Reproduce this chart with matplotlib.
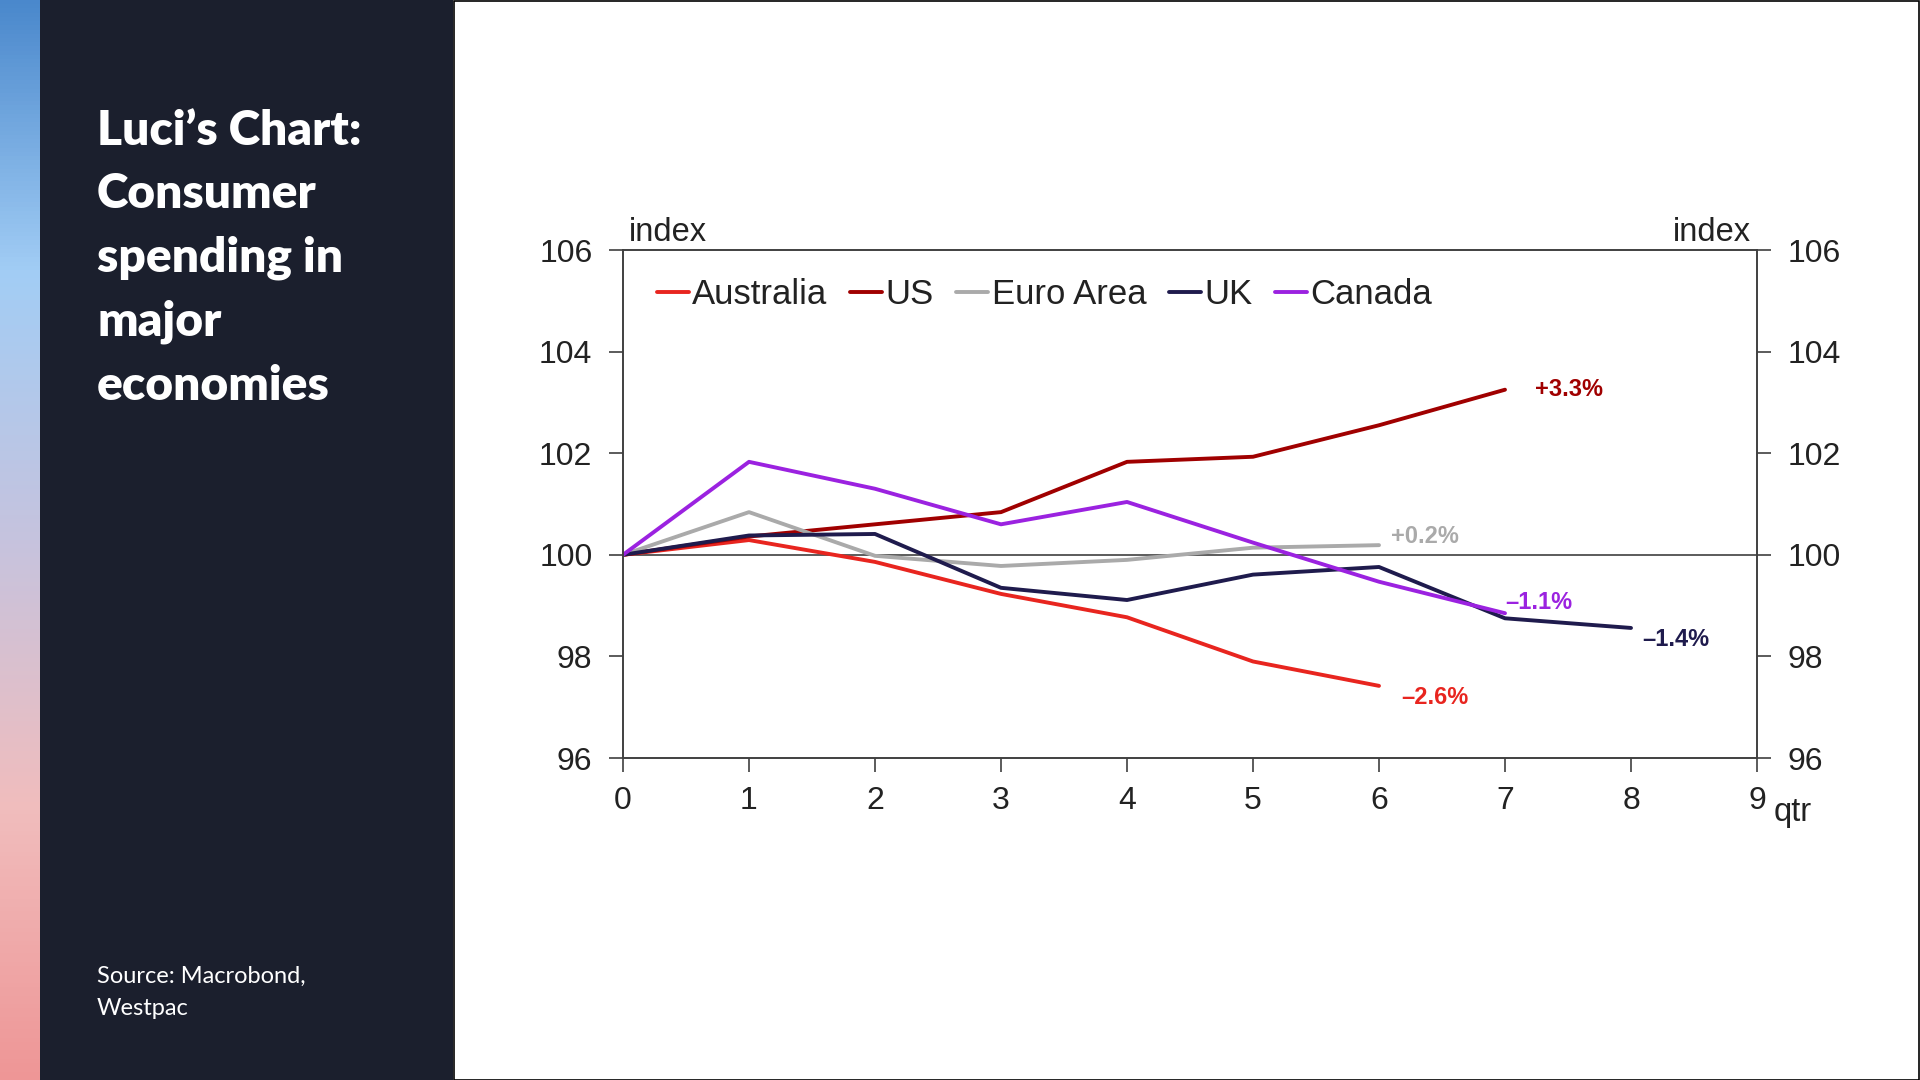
import numpy as np
import matplotlib.pyplot as plt
from matplotlib.colors import LinearSegmentedColormap
from matplotlib.patches import Rectangle

# data (index, start = 100)
qtr = [0, 1, 2, 3, 4, 5, 6, 7, 8]
australia = [100, 100.29, 99.86, 99.23, 98.77, 97.90, 97.42]
us = [100, 100.36, 100.60, 100.84, 101.83, 101.93, 102.55, 103.25]
euro_area = [100, 100.84, 99.98, 99.78, 99.90, 100.14, 100.19]
uk = [100, 100.38, 100.41, 99.35, 99.11, 99.61, 99.76, 98.75, 98.56]
canada = [100, 101.83, 101.30, 100.60, 101.04, 100.24, 99.47, 98.85]

names = ["Australia", "US", "Euro Area", "UK", "Canada"]
colours = ["#e8251f", "#a00000", "#aaaaaa", "#1f1b4d", "#9b22e0"]
end_labels = ["\u20132.6%", "+3.3%", "+0.2%", "\u20131.4%", "\u20131.1%"]
# label offsets from last point, in pixels
label_off = [(22, -12), (30, 0), (12, 9), (11, -12), (0, 11)]

y_ticks = [96, 98, 100, 102, 104, 106]

plt.rcParams['font.family'] = ['Liberation Sans', 'DejaVu Sans']

fig = plt.figure(figsize=(19.2, 10.8), dpi=100)
W, H = 1920, 1080

# left gradient strip
grad_cols = ["#4a88cc", "#a2cdf5", "#c6c3de", "#f1bdbd", "#ee9696"]
cmap = LinearSegmentedColormap.from_list("strip", grad_cols)
sax = fig.add_axes([0, 0, 40 / W, 1])
sax.imshow(np.linspace(0, 1, 256).reshape(-1, 1), aspect='auto', cmap=cmap,
           extent=[0, 1, 1, 0])
sax.axis('off')

# dark side panel
fig.patches.append(Rectangle((40 / W, 0), 413 / W, 1, transform=fig.transFigure,
                             facecolor="#1b1f2d", edgecolor='none', zorder=0))
# thin border round white area
fig.patches.append(Rectangle((453.5 / W, 0.5 / H), 1465.5 / W, 1078.5 / H,
                             transform=fig.transFigure, facecolor='none',
                             edgecolor='black', linewidth=1.2, zorder=5))

title = "Luci\u2019s Chart:\nConsumer\nspending in\nmajor\neconomies"
fig.text(97 / W, 1 - 109 / H, title, color='white', fontsize=34.5,
         fontfamily='Lato', fontweight='heavy', va='top', ha='left',
         linespacing=1.54)
fig.text(97 / W, 1 - 966 / H, "Source: Macrobond,\nWestpac", color='white',
         fontsize=17, fontfamily='Lato', va='top', ha='left', linespacing=1.65)

# main chart
ax = fig.add_axes([623 / W, 1 - 758 / H, 1134 / W, 508 / H])
series = [australia, us, euro_area, uk, canada]
for vals, name, col, lab, off in zip(series, names, colours, end_labels, label_off):
    x = qtr[:len(vals)]
    ax.plot(x, vals, color=col, lw=2.8, label=name, solid_capstyle='round')
    ax.annotate(lab, (x[-1], vals[-1]), xytext=off, textcoords='offset pixels',
                color=col, fontsize=17, fontweight='bold', va='center', ha='left')

ax.axhline(100, color='#404040', lw=1.2, zorder=1)
ax.set_xlim(0, 9)
ax.set_ylim(96, 106)
ax.set_xticks(qtr + [9])
ax.set_yticks(y_ticks)
for s in ax.spines.values():
    s.set_color('#404040')
    s.set_linewidth(1.2)
ax.tick_params(axis='both', direction='out', length=10, width=1.2, colors='#404040',
               labelcolor='#222222', labelsize=23)
ax.tick_params(axis='y', pad=12)
ax.tick_params(axis='x', pad=10.5)

ax2 = ax.twinx()
ax2.set_ylim(96, 106)
ax2.set_yticks(y_ticks)
for s in ax2.spines.values():
    s.set_color('#404040')
    s.set_linewidth(1.2)
ax2.tick_params(axis='y', direction='out', length=10, width=1.2, colors='#404040',
                labelcolor='#222222', labelsize=23, pad=12)

ax.text(0.005, 1.004, "index", transform=ax.transAxes, fontsize=23.5, color='#222222',
        ha='left', va='bottom')
ax.text(0.995, 1.004, "index", transform=ax.transAxes, fontsize=23.5, color='#222222',
        ha='right', va='bottom')
ax.text(1.015, -0.108, "qtr", transform=ax.transAxes, fontsize=23.5, color='#222222',
        ha='left', va='center')

leg = ax.legend(loc='center left', ncol=5, frameon=False, fontsize=25,
                handlelength=0.92, handletextpad=0.1, columnspacing=0.65,
                bbox_to_anchor=(0.030, 0.912), borderaxespad=0, borderpad=0)
for t in leg.get_texts():
    t.set_color('#222222')

fig.savefig("out.png", dpi=100)
